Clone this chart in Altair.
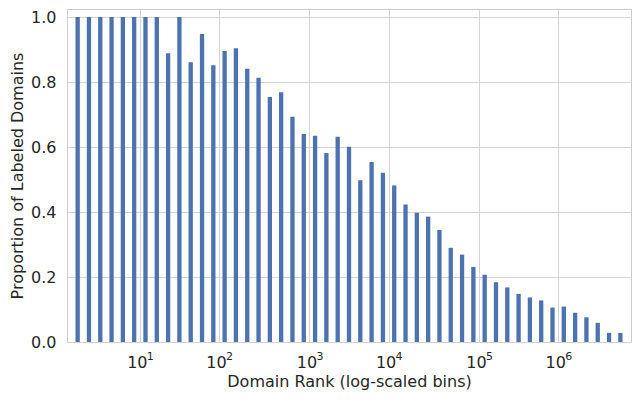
import altair as alt
import pandas as pd

# Proportion of labeled domains per log-scaled rank bin (49 bins)
bin_index = list(range(49))
proportion = [
    1.0, 1.0, 1.0, 1.0, 1.0, 1.0, 1.0, 1.0, 0.889, 1.0,
    0.861, 0.948, 0.852, 0.896, 0.904, 0.841, 0.813, 0.754, 0.769, 0.693,
    0.640, 0.635, 0.582, 0.632, 0.601, 0.498, 0.554, 0.521, 0.482, 0.423,
    0.398, 0.386, 0.345, 0.290, 0.269, 0.231, 0.207, 0.184, 0.168, 0.148,
    0.137, 0.128, 0.106, 0.109, 0.090, 0.076, 0.059, 0.028, 0.028,
]

# x-axis ticks (bin-edge positions of powers of ten): base "10" and exponents
tick_positions = [5.5, 12.5, 20.5, 27.5, 35.5, 42.5]
tick_base = "10"
tick_exponents = ["1", "2", "3", "4", "5", "6"]
y_ticks = [0.0, 0.2, 0.4, 0.6, 0.8, 1.0]

df = pd.DataFrame({"bin": bin_index, "proportion": proportion})
df_ticks = pd.DataFrame({"bin": tick_positions, "exp": tick_exponents})

font = "DejaVu Sans"
txt = "#262626"
W, H = 564, 333

x_scale = alt.Scale(domain=[-0.5, 48.5], nice=False, zero=False)
x_axis = alt.Axis(
    values=tick_positions,
    labelExpr=f"'{tick_base}'",
    title="Domain Rank (log-scaled bins)",
    labelPadding=12,
    labelOffset=-3,
    titlePadding=3,
)

bars = (
    alt.Chart(df)
    .mark_bar(size=4.3, color="#4c72b0")
    .encode(
        x=alt.X("bin:Q", scale=x_scale, axis=x_axis),
        y=alt.Y(
            "proportion:Q",
            scale=alt.Scale(domain=[0, 1.025], nice=False),
            axis=alt.Axis(
                values=y_ticks,
                format=".1f",
                title="Proportion of Labeled Domains",
                labelPadding=11,
                titlePadding=5,
            ),
        ),
    )
)

exponents = (
    alt.Chart(df_ticks)
    .mark_text(
        align="left", baseline="top", dx=7, fontSize=11, font=font, color=txt
    )
    .encode(
        x=alt.X("bin:Q", scale=x_scale, axis=x_axis),
        y=alt.value(H + 9),
        text="exp:N",
    )
)

chart = (
    alt.layer(bars, exponents)
    .properties(
        width=W,
        height=H,
        autosize=alt.AutoSizeParams(type="none"),
        padding={"left": 59, "top": 1, "right": 1, "bottom": 70},
    )
    .configure(background="white")
    .configure_view(stroke="#cccccc", strokeWidth=1)
    .configure_axis(
        grid=True,
        gridColor="#d4d4d4",
        gridWidth=1,
        domain=False,
        ticks=False,
        tickSize=0,
        labelFont=font,
        labelFontSize=16,
        labelColor=txt,
        titleFont=font,
        titleFontSize=16,
        titleFontWeight="normal",
        titleColor=txt,
    )
)

chart.save("out.html", embed_options={"renderer": "svg", "actions": False})
